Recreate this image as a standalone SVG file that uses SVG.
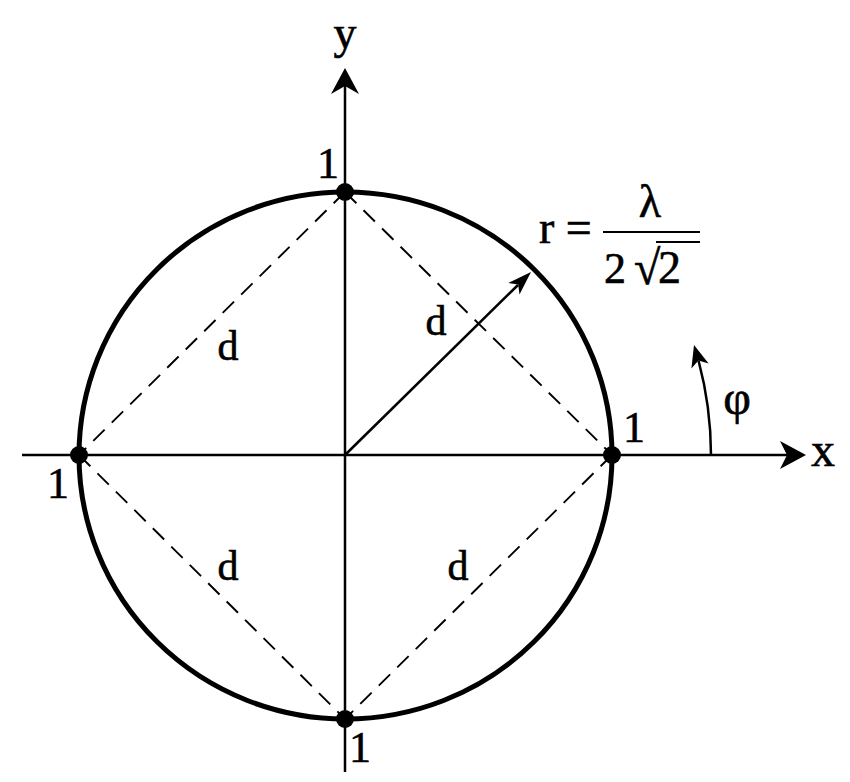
<svg xmlns="http://www.w3.org/2000/svg" width="850" height="782" viewBox="0 0 850 782">
<style>
.t{font-family:"Liberation Serif","Times New Roman",serif;fill:#000;stroke:#000;stroke-width:0.6}
.ax{stroke:#000;stroke-width:2.5;fill:none}
.dash{stroke:#000;stroke-width:1.9;stroke-dasharray:16 10;fill:none}
.ah{fill:#000;stroke:none}
</style>
<rect width="850" height="782" fill="#fff"/>
<g id="connectors">
<line class="dash" x1="345" y1="192" x2="612" y2="455"/>
<line class="dash" x1="345" y1="192" x2="79" y2="455"/>
<line class="dash" x1="79" y1="455" x2="345" y2="719"/>
<line class="dash" x1="612" y1="455" x2="345" y2="719"/>
<line class="ax" x1="345" y1="772" x2="345" y2="85"/>
<polygon class="ah" points="345,68 359,94 345,86 331,94"/>
<line class="ax" x1="22" y1="455" x2="790" y2="455"/>
<polygon class="ah" points="806,455 780,469 787,455 780,441"/>
<line class="ax" x1="345" y1="455" x2="518" y2="285" stroke-width="2"/>
<polygon class="ah" points="531,272 519.5,294.5 518.2,284.6 508.3,283.1"/>
<path class="ax" d="M711,455 A366,366 0 0 0 698.5,360.5"/>
<polygon class="ah" points="694,345 708.6,363.5 698.4,360.4 691.4,368.5"/>
</g>
<g id="circle">
<ellipse cx="345.5" cy="455.5" rx="266.5" ry="263.5" fill="none" stroke="#000" stroke-width="5"/>
</g>
<g id="node-top"><circle cx="345" cy="192" r="9"/><text class="t" x="328" y="178" font-size="44" text-anchor="middle">1</text></g>
<g id="node-right"><circle cx="612" cy="455" r="9"/><text class="t" x="634" y="442" font-size="44" text-anchor="middle">1</text></g>
<g id="node-left"><circle cx="79" cy="455" r="9"/><text class="t" x="58" y="498" font-size="44" text-anchor="middle">1</text></g>
<g id="node-bottom"><circle cx="345" cy="719" r="9"/><text class="t" x="360" y="762" font-size="44" text-anchor="middle">1</text></g>
<g id="labels">
<text class="t" x="345" y="48" font-size="46" text-anchor="middle">y</text>
<text class="t" x="823" y="466" font-size="48" text-anchor="middle">x</text>
<text class="t" x="228" y="360" font-size="42" text-anchor="middle">d</text>
<text class="t" x="436" y="335" font-size="42" text-anchor="middle">d</text>
<text class="t" x="228" y="580" font-size="42" text-anchor="middle">d</text>
<text class="t" x="458" y="580" font-size="42" text-anchor="middle">d</text>
<text class="t" x="737" y="414" font-size="48" text-anchor="middle">φ</text>
<text class="t" x="539" y="243" font-size="46">r =</text>
<text class="t" x="650" y="217" font-size="46" text-anchor="middle">λ</text>
<line x1="603" y1="232" x2="700" y2="232" stroke="#000" stroke-width="2.2"/>
<text class="t" x="604" y="283" font-size="44">2</text>
<text class="t" x="634" y="284" font-size="48">√</text>
<line x1="656" y1="242" x2="700" y2="242" stroke="#000" stroke-width="2"/>
<text class="t" x="658" y="283" font-size="46">2</text>
</g>
</svg>
